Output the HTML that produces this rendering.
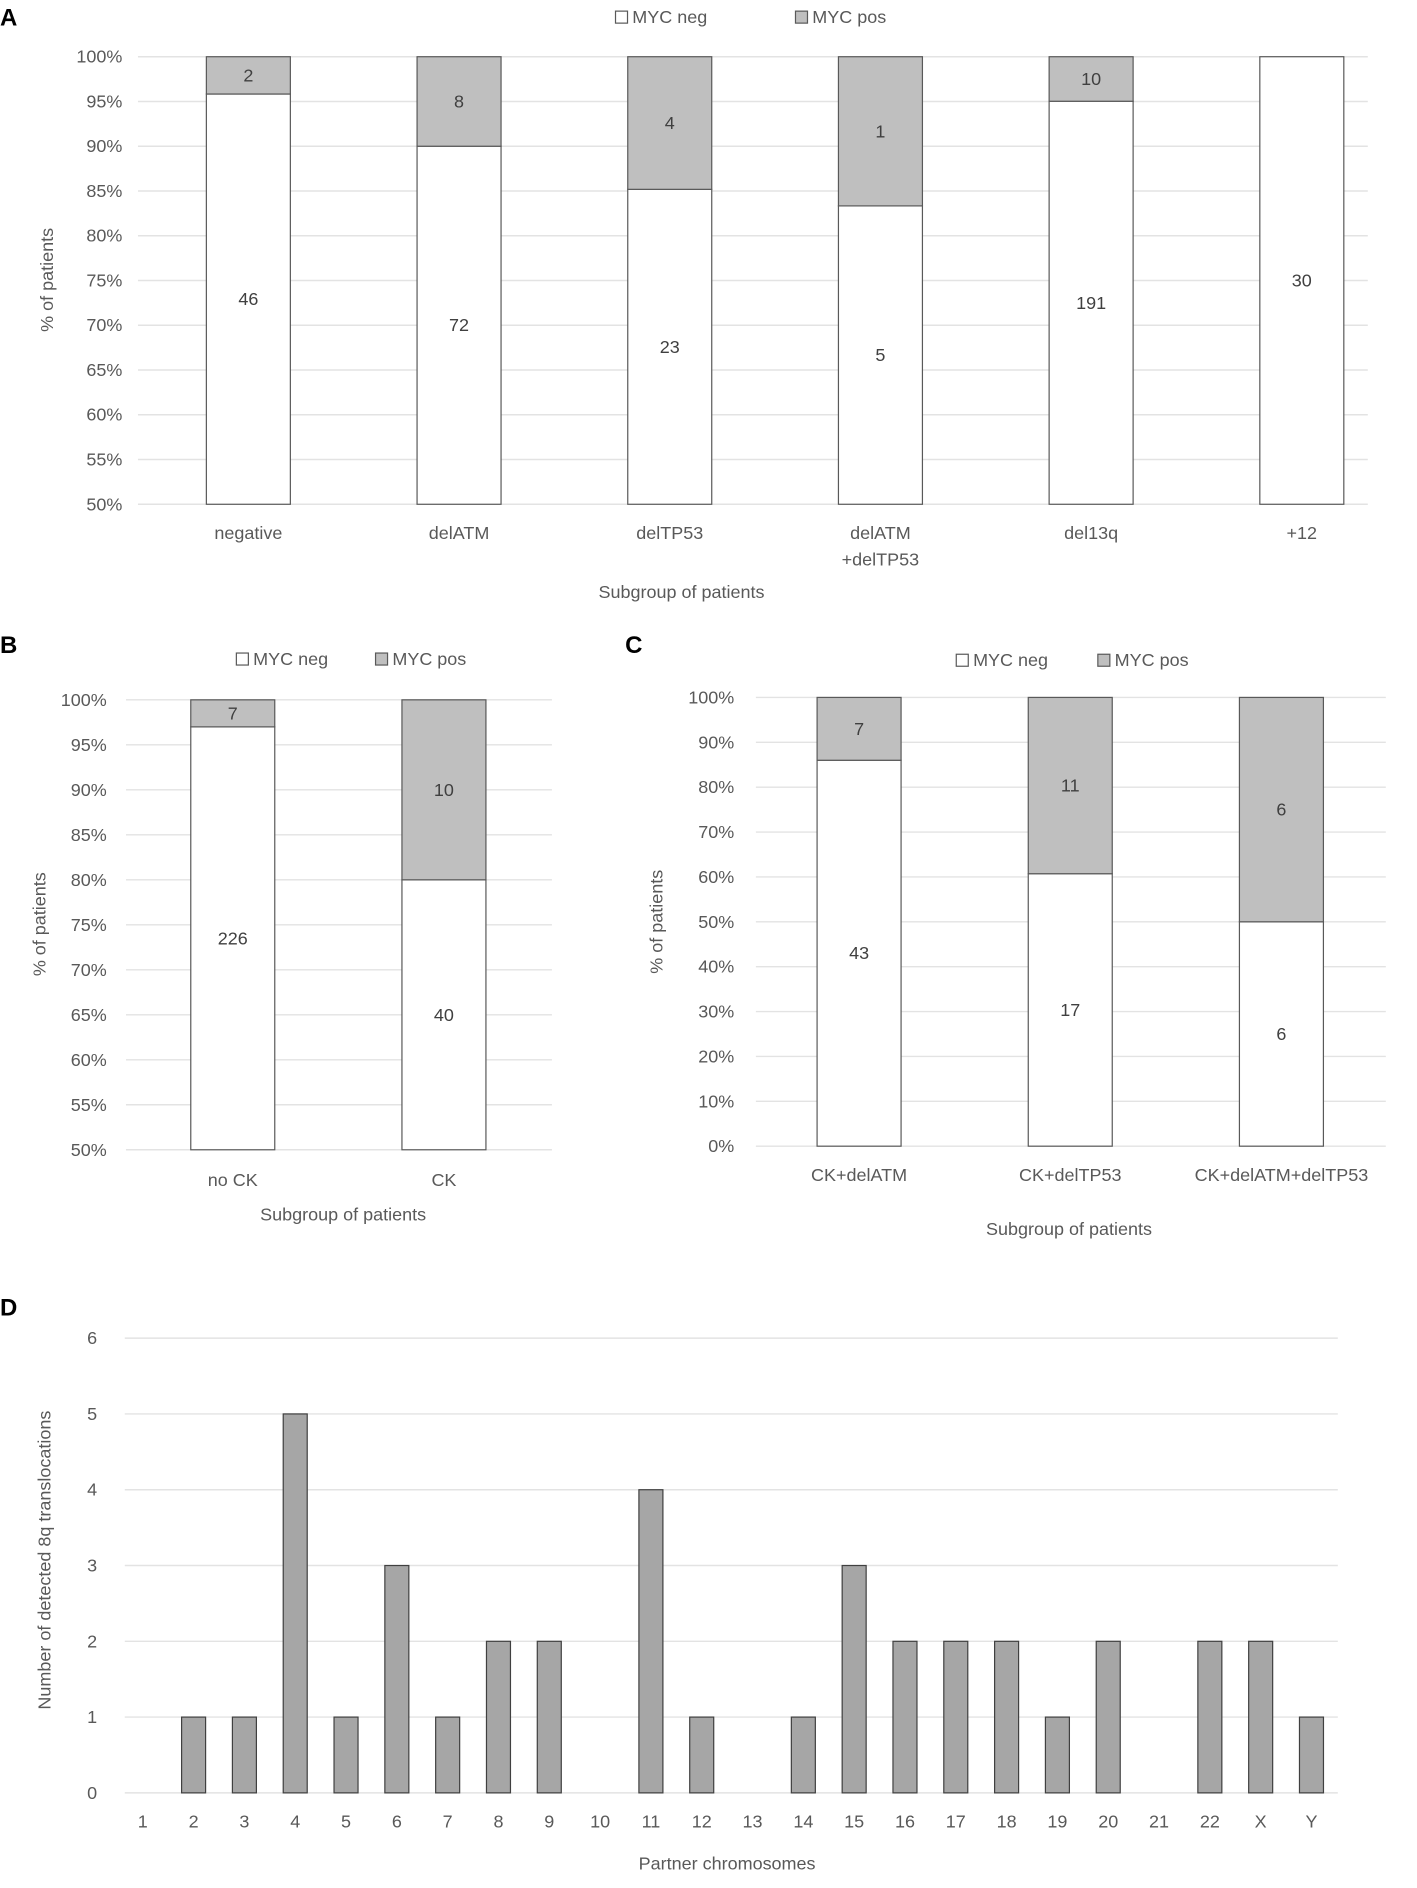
<!DOCTYPE html>
<html><head><meta charset="utf-8"><style>
html,body{margin:0;padding:0;background:#fff;}
svg{display:block;font-family:"Liberation Sans",sans-serif;}
</style></head><body>
<svg id="fig" width="1417" height="1888" viewBox="0 0 1181 1573" xmlns="http://www.w3.org/2000/svg">
<text x="0" y="21" font-size="20" font-weight="bold">A</text>
<text x="0" y="544" font-size="20" font-weight="bold">B</text>
<text x="521" y="544" font-size="20" font-weight="bold">C</text>
<text x="0" y="1096" font-size="20" font-weight="bold">D</text>
</svg>
<script>
// Panel A data
const catsA = ["negative","delATM","delTP53","delATM\n+delTP53","del13q","+12"];
const negA = [46,72,23,5,191,30];
const posA = [2,8,4,1,10,0];
const ticksA = ["50%","55%","60%","65%","70%","75%","80%","85%","90%","95%","100%"];
// Panel B data
const catsB = ["no CK","CK"];
const negB = [226,40];
const posB = [7,10];
const ticksB = ["50%","55%","60%","65%","70%","75%","80%","85%","90%","95%","100%"];
// Panel C data
const catsC = ["CK+delATM","CK+delTP53","CK+delATM+delTP53"];
const negC = [43,17,6];
const posC = [7,11,6];
const ticksC = ["0%","10%","20%","30%","40%","50%","60%","70%","80%","90%","100%"];
// Panel D data
const catsD = ["1","2","3","4","5","6","7","8","9","10","11","12","13","14","15","16","17","18","19","20","21","22","X","Y"];
const valsD = [0,1,1,5,1,3,1,2,2,0,4,1,0,1,3,2,2,2,1,2,0,2,2,1];
const ticksD = ["0","1","2","3","4","5","6"];

const svg = document.getElementById('fig');
const NS = "http://www.w3.org/2000/svg";
function mk(tag, attrs, parent){
  const e = document.createElementNS(NS, tag);
  for (const k in attrs) e.setAttribute(k, attrs[k]);
  (parent||svg).appendChild(e);
  return e;
}
function txt(x,y,s,size,anchor,fill,parent){
  const t = mk('text',{x:x,y:y,'font-size':size,'text-anchor':anchor,fill:fill},parent);
  t.textContent = s;
  return t;
}

function stacked(p){
  const g = mk('g',{});
  
  
  const yS = v => p.y0 + (v - p.vmin)/(p.vmax - p.vmin)*(p.y1 - p.y0);
  const xS = i => p.cx0 + i*p.step;
  // gridlines & ticks
  p.ticks.forEach((lab,i)=>{
    const v = p.vmin + i*(p.vmax-p.vmin)/(p.ticks.length-1);
    const l = mk('line',{x1:p.gx0,x2:p.gx1,y1:yS(v),y2:yS(v),stroke:'#e3e3e3','stroke-width':1.2},g);
    
    
    const t = txt(p.tx, yS(v)+5, lab, 15, 'end', '#595959', g);
    
    
  });
  p.cats.forEach((c,i)=>{
    const tot = p.neg[i]+p.pos[i];
    const frac = p.neg[i]/tot*100;
    const cx = xS(i), w = 70;
    const yb = yS(p.vmin), yn = yS(frac), yt = yS(100);
    const rn = mk('rect',{x:cx-w/2,y:yn,width:w,height:yb-yn,fill:'#fff',stroke:'#595959','stroke-width':1},g);
    
    
    if (p.pos[i]>0){
      const rp = mk('rect',{x:cx-w/2,y:yt,width:w,height:yn-yt,fill:'#bfbfbf',stroke:'#595959','stroke-width':1},g);
      
      
      const lp = txt(cx,(yt+yn)/2+5,String(p.pos[i]),15,'middle','#404040',g);
      
      
    }
    const ln = txt(cx,(yn+yb)/2+5,String(p.neg[i]),15,'middle','#404040',g);
    
    
    c.split("\n").forEach((s,j)=>{
      const xl = txt(cx,p.xly+j*22,s,15,'middle','#595959',g);
      
      
    });
  });
  const xt = txt(p.xtx,p.xty,'Subgroup of patients',15,'middle','#595959',g);
  
  
  const yt = txt(0,0,'% of patients',15,'middle','#595959',g);
  yt.setAttribute('transform',`translate(${p.ytx},${p.yty}) rotate(-90)`);
  
  
  // legend
  const b1 = mk('rect',{x:p.lx,y:p.ly-10,width:10,height:10,fill:'#fff',stroke:'#595959'},g);
  
  
  const t1 = txt(p.lx+14,p.ly,'MYC neg',15,'start','#595959',g);
  
  
  const b2 = mk('rect',{x:p.lx+p.lgap,y:p.ly-10,width:10,height:10,fill:'#bfbfbf',stroke:'#595959'},g);
  
  
  const t2 = txt(p.lx+p.lgap+14,p.ly,'MYC pos',15,'start','#595959',g);
  
  
}

stacked({name:'panel-a-chart',cats:catsA,neg:negA,pos:posA,ticks:catsA&&ticksA,vmin:50,vmax:100,y0:420,y1:47,
  gx0:115,gx1:1140,tx:102,cx0:207,step:175.6,xly:449,xtx:568,xty:498,ytx:44,yty:233,lx:513,ly:19,lgap:150});
stacked({name:'panel-b-chart',cats:catsB,neg:negB,pos:posB,ticks:ticksB,vmin:50,vmax:100,y0:958,y1:583,
  gx0:105,gx1:460,tx:89,cx0:194,step:176,xly:988,xtx:286,xty:1017,ytx:38,yty:770,lx:197,ly:554,lgap:116});
stacked({name:'panel-c-chart',cats:catsC,neg:negC,pos:posC,ticks:ticksC,vmin:0,vmax:100,y0:955,y1:581,
  gx0:630,gx1:1155,tx:612,cx0:716,step:176,xly:984,xtx:891,xty:1029,ytx:552,yty:768,lx:797,ly:555,lgap:118});

// Panel D
(function(){
  const g = mk('g',{});
  
  
  const y0=1494, y1=1115, vmax=6;
  const yS = v => y0 + v/vmax*(y1-y0);
  const xS = i => 119 + i*42.35;
  ticksD.forEach((lab,i)=>{
    const v = i;
    const l = mk('line',{x1:104,x2:1115,y1:yS(v),y2:yS(v),stroke:'#e3e3e3','stroke-width':1.2},g);
    
    
    const t = txt(81,yS(v)+5,lab,15,'end','#595959',g);
    
    
  });
  catsD.forEach((c,i)=>{
    const cx = xS(i);
    if (valsD[i]>0){
      const r = mk('rect',{x:cx-10,y:yS(valsD[i]),width:20,height:y0-yS(valsD[i]),fill:'#a6a6a6',stroke:'#404040','stroke-width':1},g);
      
      
    }
    const t = txt(cx,1523,c,15,'middle','#595959',g);
    
    
  });
  const xt = txt(606,1558,'Partner chromosomes',15,'middle','#595959',g);
  
  
  const yt = txt(0,0,'Number of detected 8q translocations',15,'middle','#595959',g);
  yt.setAttribute('transform','translate(42,1300) rotate(-90)');
  
  
})();
</script>
</body></html>
